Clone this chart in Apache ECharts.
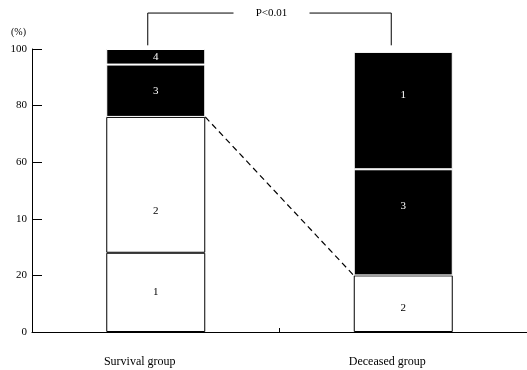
<!DOCTYPE html>
<html>
<head>
<meta charset="utf-8">
<script src="https://cdn.jsdelivr.net/npm/echarts@6/dist/echarts.min.js"></script>
<style>html,body{margin:0;padding:0;background:#fff}#c{width:527px;height:370px}</style>
</head>
<body>
<div id="c"></div>
<script>
var categories = ["Survival group", "Deceased group"];
var yTickLabels = {0: "0", 20: "20", 40: "10", 60: "60", 80: "80", 100: "100"};
// stack levels from bottom to top
var level1 = [28, 20];
var level2 = [48, 37.5];
var level3 = [18.5, 41.5];
var level4 = [5.5, 0];
var labels1 = ["1", "2"];
var labels2 = ["2", "3"];
var labels3 = ["3", "1"];
var labels4 = ["4", ""];
var dark1 = [false, false];
var dark2 = [false, true];
var dark3 = [true, true];
var dark4 = [true, true];
var pText = "P<0.01";
var bracketLow = 101.3, bracketHigh = 112.7;

var FONT = "Liberation Serif";
function makeSeries(vals, labs, dark, offs) {
  return {
    type: 'bar', stack: 's', barWidth: '40%',
    data: vals.map(function (v, i) {
      return {
        value: v,
        itemStyle: dark[i] ? {color: '#000', borderColor: '#fff', borderWidth: 1}
                           : {color: '#fff', borderColor: '#000', borderWidth: 1},
        label: {show: v > 0, formatter: labs[i], color: dark[i] ? '#fff' : '#000',
                fontFamily: FONT, fontSize: 11, offset: [0, offs[i]]}
      };
    }),
    silent: true, animation: false
  };
}
var whiteTops = [0, 1].map(function (i) {
  var s = 0;
  [[level1, dark1], [level2, dark2], [level3, dark3], [level4, dark4]].forEach(function (p) {
    if (!p[1][i]) s += p[0][i];
  });
  return s;
});

var chart = echarts.init(document.getElementById('c'));
chart.setOption({
  animation: false,
  grid: {left: 32, right: 0, top: 49, bottom: 38},
  xAxis: {
    type: 'category', data: categories,
    axisLine: {lineStyle: {color: '#000', width: 1}},
    axisTick: {show: true, inside: true, length: 4, lineStyle: {color: '#000'}},
    axisLabel: {color: '#000', fontFamily: FONT, fontSize: 12, margin: 24, padding: [0, 32, 0, 0]}
  },
  yAxis: {
    type: 'value', min: 0, max: 100, interval: 20,
    name: '(%)', nameLocation: 'end', nameGap: 12,
    nameTextStyle: {color: '#000', fontFamily: FONT, fontSize: 10, align: 'right', padding: [0, 6, 0, 0]},
    axisLine: {show: true, lineStyle: {color: '#000', width: 1}},
    axisTick: {show: true, inside: true, length: 10, lineStyle: {color: '#000'}},
    splitLine: {show: false},
    axisLabel: {color: '#000', fontFamily: FONT, fontSize: 11, margin: 5,
      formatter: function (v) { return yTickLabels[v]; }}
  },
  series: [
    makeSeries(level1, labels1, dark1, [0, 4]),
    makeSeries(level2, labels2, dark2, [26, -16]),
    makeSeries(level3, labels3, dark3, [0, -15]),
    makeSeries(level4, labels4, dark4, [0, 0]),
    {
      type: 'custom', coordinateSystem: 'cartesian2d', clip: false, silent: true,
      data: [[0, whiteTops[0], whiteTops[1]]],
      encode: {x: 0, y: 1},
      renderItem: function (params, api) {
        var p0 = api.coord([0, api.value(1)]);
        var p1 = api.coord([1, api.value(2)]);
        var bw = api.size([1, 0])[0] * 0.4;
        return {type: 'line', shape: {x1: p0[0] + bw / 2, y1: p0[1], x2: p1[0] - bw / 2, y2: p1[1]},
          style: {stroke: '#000', lineWidth: 1.2, lineDash: [6, 4]}};
      }
    },
    {
      type: 'custom', coordinateSystem: 'cartesian2d', clip: false, silent: true,
      data: [[0, bracketLow, bracketHigh]],
      encode: {x: 0, y: 1},
      renderItem: function (params, api) {
        var a = api.coord([0, api.value(1)]);
        var b = api.coord([1, api.value(1)]);
        var top = api.coord([0, api.value(2)])[1];
        var xl = a[0] - 8, xr = b[0] - 12;
        var mid = (xl + xr) / 2 + 2;
        return {type: 'group', children: [
          {type: 'polyline', shape: {points: [[xl, a[1]], [xl, top], [mid - 38, top]]},
            style: {stroke: '#000', lineWidth: 1, fill: null}},
          {type: 'polyline', shape: {points: [[mid + 38, top], [xr, top], [xr, a[1]]]},
            style: {stroke: '#000', lineWidth: 1, fill: null}},
          {type: 'text', style: {text: pText, x: mid, y: top, align: 'center', verticalAlign: 'middle',
            fill: '#000', font: '11px "Liberation Serif"'}}
        ]};
      }
    }
  ]
});
</script>
</body>
</html>
